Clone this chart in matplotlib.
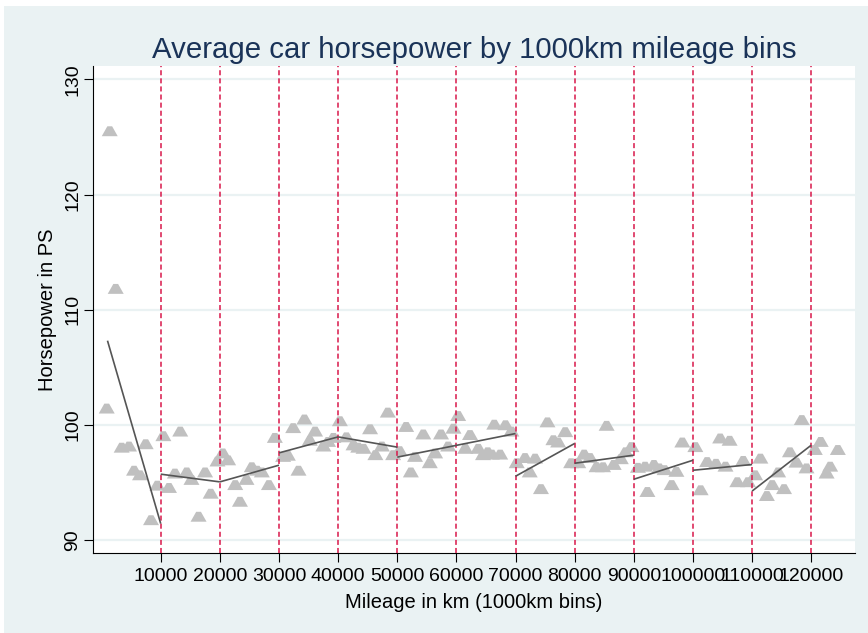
import matplotlib
matplotlib.use("Agg")
import matplotlib.pyplot as plt
from matplotlib.path import Path
from matplotlib.patches import Rectangle

# ---------------- data ----------------
mileage_km = [
    870, 1380, 2390, 3400, 4640, 5490, 6500, 7460, 8360, 9430,
    10450, 11400, 12400, 13300, 14400, 15200, 16400, 17500, 18450, 19600,
    20500, 21400, 22600, 23400, 24500, 25400, 26300, 27100, 28300, 29300,
    30700, 31500, 32400, 33300, 34300, 35200, 36100, 37500, 38300, 39200,
    40300, 41400, 42600, 43400, 44300, 45400, 46300, 47400, 48400, 49300,
    50400, 51500, 52300, 53000, 54400, 55500, 56400, 57400, 58600, 59500,
    60300, 61500, 62300, 63700, 64500, 65300, 66000, 66400, 67400, 68300, 69300,
    70200, 71600, 72400, 73300, 74300, 75400, 76400, 77200, 78400, 79400,
    80600, 81600, 82600, 83700, 84800, 85400, 86600, 87800, 88600, 89600,
    90700, 91900, 92300, 93400, 94300, 95200, 96400, 97200, 98200,
    100400, 101300, 102400, 103900, 104600, 105500, 106200, 107500, 108500, 109300,
    110500, 111400, 112500, 113400, 114400, 115400, 116400, 117500, 118400, 119200,
    120600, 121600, 122600, 123200, 124500,
]
horsepower_ps = [
    101.4, 125.5, 111.8, 98.0, 98.1, 96.0, 95.6, 98.3, 91.7, 94.7,
    99.0, 94.5, 95.75, 99.4, 95.85, 95.2, 92.0, 95.85, 94.0, 96.8,
    97.5, 96.9, 94.75, 93.3, 95.2, 96.3, 96.0, 95.85, 94.75, 98.85,
    97.2, 97.3, 99.7, 96.0, 100.45, 98.6, 99.4, 98.1, 98.5, 98.85,
    100.3, 98.9, 98.2, 98.0, 97.9, 99.6, 97.35, 98.1, 101.05, 97.35,
    97.7, 99.8, 95.85, 97.2, 99.15, 96.65, 97.5, 99.15, 98.1, 99.65,
    100.75, 97.9, 99.1, 97.9, 97.35, 97.6, 97.4, 100.0, 97.4, 99.95, 99.4,
    96.65, 97.1, 95.85, 97.05, 94.4, 100.2, 98.65, 98.45, 99.35, 96.65,
    96.65, 97.4, 97.1, 96.3, 96.3, 99.9, 96.5, 97.0, 97.6, 98.05,
    96.25, 96.35, 94.15, 96.5, 96.2, 96.05, 94.75, 95.9, 98.45,
    98.05, 94.3, 96.75, 96.6, 98.8, 96.35, 98.6, 95.0, 96.85, 95.0,
    95.6, 97.05, 93.8, 94.75, 95.85, 94.4, 97.6, 96.7, 100.4, 96.2,
    97.8, 98.5, 95.75, 96.35, 97.8,
]

# fitted line segments per bin
fit_x_start = [1000, 10000, 20000, 30000, 40000, 50000, 70000, 80000, 90000, 100000, 110000]
fit_x_end = [10000, 20000, 30000, 40000, 50000, 70000, 80000, 90000, 100000, 110000, 120000]
fit_y_start = [107.3, 95.7, 95.03, 97.55, 98.94, 97.18, 95.52, 96.65, 95.26, 96.04, 94.23]
fit_y_end = [91.4, 95.03, 96.48, 98.94, 98.05, 99.23, 98.37, 97.35, 96.91, 96.54, 98.22]

bin_edges = [10000, 20000, 30000, 40000, 50000, 60000, 70000, 80000, 90000, 100000, 110000, 120000]
x_ticks = bin_edges
y_ticks = [90, 100, 110, 120, 130]

title = "Average car horsepower by 1000km mileage bins"
x_label = "Mileage in km (1000km bins)"
y_label = "Horsepower in PS"

# ---------------- style ----------------
BG = "#eaf2f3"
FONT = ["Liberation Sans", "DejaVu Sans"]
plt.rcParams["font.family"] = FONT

W, H = 868, 633
fig = plt.figure(figsize=(W / 100, H / 100), dpi=100, facecolor="white")
fig.patches.append(Rectangle((4 / W, 0), 1 - 4 / W, 1 - 6 / H, transform=fig.transFigure,
                             facecolor=BG, edgecolor="none", zorder=-10))

left, right, top, bottom = 93, 855, 66, 553
ax = fig.add_axes([left / W, 1 - bottom / H, (right - left) / W, (bottom - top) / H])
ax.set_facecolor("white")

ax.set_xlim(-1450, 127400)
ax.set_ylim(88.85, 131.17)

# grid
for yv in y_ticks:
    ax.axhline(yv, color=BG, lw=1.6, zorder=0)

# trapezoid-like triangle marker
tri = Path([(-1, -0.62), (1, -0.62), (0.3, 0.62), (-0.3, 0.62), (-1, -0.62)],
           [Path.MOVETO, Path.LINETO, Path.LINETO, Path.LINETO, Path.CLOSEPOLY])
ax.scatter(mileage_km, horsepower_ps, marker=tri, s=11.5 ** 2, color="#c0c0c0",
           edgecolors="none", zorder=2)

for xe in bin_edges:
    ax.axvline(xe, color="#d8174a", lw=1.1, ls=(0, (3.3, 2.0)), zorder=3)

for xs, xe, ys, ye in zip(fit_x_start, fit_x_end, fit_y_start, fit_y_end):
    ax.plot([xs, xe], [ys, ye], color="#555555", lw=1.2, zorder=4, solid_capstyle="butt")

ax.spines["top"].set_visible(False)
ax.spines["right"].set_visible(False)
for sp in ("left", "bottom"):
    ax.spines[sp].set_color("black")
    ax.spines[sp].set_linewidth(0.8)

ax.set_xticks(x_ticks)
ax.set_xticklabels([str(v) for v in x_ticks])
ax.set_yticks(y_ticks)
ax.set_yticklabels([str(v) for v in y_ticks], rotation=90, va="center")
ax.tick_params(axis="both", length=6.5, width=0.8, color="black", labelsize=14,
               labelcolor="black")
ax.tick_params(axis="x", pad=4)
ax.tick_params(axis="y", pad=2)

ax.set_xlabel(x_label, fontsize=14.5, labelpad=6, color="black")
ax.set_ylabel(y_label, fontsize=14.5, labelpad=5, color="black")
fig.text(474 / W, 1 - 58 / H, title, ha="center", va="baseline", fontsize=21.2,
         color="#1a3358")

fig.savefig("out.png", dpi=100, facecolor=fig.get_facecolor())
